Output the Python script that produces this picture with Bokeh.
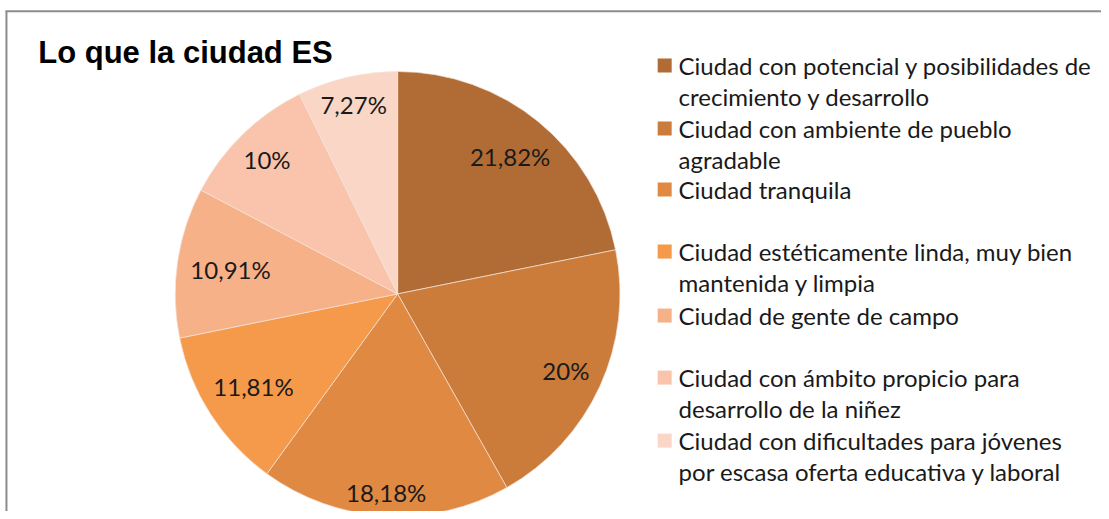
import math
from bokeh.plotting import figure
from bokeh.models import Range1d, Label, ColumnDataSource
from bokeh.core.properties import value
from bokeh.embed import file_html
from bokeh.resources import INLINE

# ---------------- data ----------------
title_text = "Lo que la ciudad ES"
categories = [
    "Ciudad con potencial y posibilidades de\ncrecimiento y desarrollo",
    "Ciudad con ambiente de pueblo\nagradable",
    "Ciudad tranquila",
    "Ciudad estéticamente linda, muy bien\nmantenida y limpia",
    "Ciudad de gente de campo",
    "Ciudad con ámbito propicio para\ndesarrollo de la niñez",
    "Ciudad con dificultades para jóvenes\npor escasa oferta educativa y laboral",
]
percentages = [21.82, 20.0, 18.18, 11.81, 10.91, 10.0, 7.27]
pct_labels = ["21,82%", "20%", "18,18%", "11,81%", "10,91%", "10%", "7,27%"]
colors = ["#B06C34", "#CB7C3B", "#E08942", "#F5994A", "#F7B188", "#F9C4AB", "#FAD6C6"]

# ---------------- layout ----------------
W, H = 1101, 511
RW, RH = 1109, 519
SX, SY = W / RW, H / RH
def X(px):
    return px * SX
def Y(py):
    return H - py * SY

cx, cy, R = X(400), Y(298), 224 * SX
R_in = 212 * SX          # labels are pushed out until their box touches this circle
lbl_font_px = 24
lbl_half_h = 9

p = figure(width=W, height=H, output_backend="svg", toolbar_location=None,
           x_range=Range1d(0, W), y_range=Range1d(0, H),
           min_border=0, min_border_left=0, min_border_right=0,
           min_border_top=0, min_border_bottom=0)
p.axis.visible = False
p.grid.visible = False
p.outline_line_color = None
p.background_fill_color = "white"
p.border_fill_color = "white"

# frame lines (top and left)
p.segment(x0=[X(5), X(6)], y0=[Y(11), Y(11)], x1=[X(1109), X(6)], y1=[Y(11), Y(519)],
          line_color="#8C8C8C", line_width=2)

# pie
total = sum(percentages)
starts, ends, mids = [], [], []
cum = 0.0
for v in percentages:
    a0 = math.pi / 2 - 2 * math.pi * cum / total
    cum += v
    a1 = math.pi / 2 - 2 * math.pi * cum / total
    starts.append(a0)
    ends.append(a1)
    mids.append((a0 + a1) / 2)

src = ColumnDataSource(dict(start=starts, end=ends, color=colors))
p.wedge(x=cx, y=cy, radius=R, start_angle="start", end_angle="end",
        direction="clock", fill_color="color", line_color="#F4E4DA",
        line_width=0.7, source=src)

def est_half_width(s):
    w = 0.0
    for ch in s:
        if ch.isdigit():
            w += 0.58 * lbl_font_px
        elif ch == ",":
            w += 0.25 * lbl_font_px
        else:
            w += 0.83 * lbl_font_px
    return w / 2

lx, ly = [], []
for m, s in zip(mids, pct_labels):
    ext = est_half_width(s) * abs(math.cos(m)) + lbl_half_h * abs(math.sin(m))
    r = R_in - ext
    lx.append(cx + r * math.cos(m))
    ly.append(cy + r * math.sin(m))
p.text(x=lx, y=ly, text=pct_labels, text_align="center", text_baseline="middle",
       text_font=value("Lato"), text_font_size=f"{lbl_font_px}px", text_color="#1A1A1A")

# title
p.add_layout(Label(x=X(38), y=Y(53), text=title_text, text_baseline="middle",
                   text_font="Liberation Sans", text_font_style="bold",
                   text_font_size="31px", text_color="#000000"))

# legend
entry_y = [66, 130, 192, 255, 320, 383, 447]
line_gap = 31
sq_x, sq_size, txt_x = X(669), 14, X(683)
p.rect(x=[sq_x] * len(categories), y=[Y(v) for v in entry_y], width=sq_size, height=sq_size,
       fill_color=colors, line_color=None)
tx, ty, tt = [], [], []
for lab, ey in zip(categories, entry_y):
    for k, line in enumerate(lab.split("\n")):
        tx.append(txt_x)
        ty.append(Y(ey + k * line_gap))
        tt.append(line)
p.text(x=tx, y=ty, text=tt, text_align="left", text_baseline="middle",
       text_font=value("Lato"), text_font_size="24px", text_color="#1A1A1A")

open("out.html", "w").write(file_html(p, INLINE))
